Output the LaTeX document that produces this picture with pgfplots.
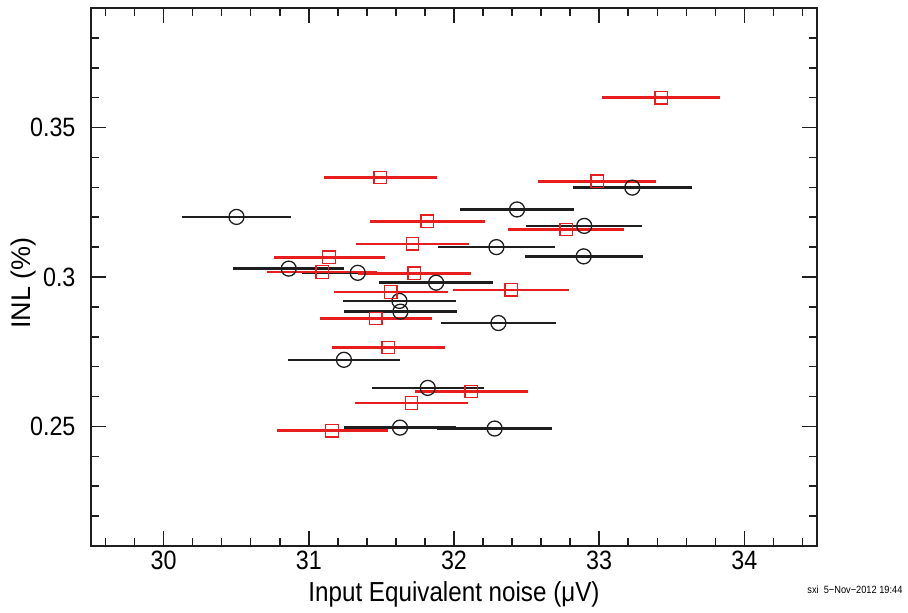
\documentclass[border=0pt]{standalone}
\usepackage{fontspec}
\setmainfont{Liberation Sans}[FakeStretch=0.88]
\newfontfamily\ylabfont{Liberation Sans}
\usepackage{pgfplots}
\pgfplotsset{compat=1.18}
\usepackage{pgfplotstable}
\definecolor{myred}{RGB}{232,30,30}
\definecolor{myblack}{RGB}{30,30,30}

\pgfplotstableread{
x y ex
33.427 0.3600 0.406
31.493 0.3333 0.390
32.987 0.3320 0.406
31.817 0.3186 0.396
32.774 0.3159 0.400
31.714 0.3111 0.392
31.140 0.3066 0.382
31.092 0.3017 0.379
31.727 0.3012 0.389
31.565 0.2950 0.392
32.395 0.2957 0.400
31.461 0.2861 0.385
31.547 0.2764 0.390
32.120 0.2617 0.392
31.707 0.2578 0.392
31.160 0.2486 0.382
}\redtab

\pgfplotstableread{
x y ex
30.502 0.3201 0.376
33.228 0.3299 0.408
32.434 0.3226 0.394
32.897 0.3171 0.401
32.292 0.3100 0.404
32.893 0.3069 0.406
30.862 0.3028 0.381
31.337 0.3014 0.382
31.877 0.2981 0.392
31.624 0.2920 0.390
31.631 0.2884 0.390
32.306 0.2846 0.397
31.242 0.2723 0.387
31.819 0.2629 0.385
31.628 0.2496 0.387
32.280 0.2493 0.394
}\blacktab

\begin{document}
\begin{tikzpicture}[x=1pt,y=1pt]
\begin{axis}[
  at={(91pt,67pt)}, anchor=south west,
  scale only axis, width=726pt, height=538pt,
  xmin=29.5, xmax=34.5, ymin=0.21, ymax=0.39,
  xtick={30,31,32,33,34},
  ytick={0.25,0.3,0.35},
  minor xtick={29.6,29.8,30.2,30.4,30.6,30.8,31.2,31.4,31.6,31.8,32.2,32.4,32.6,32.8,33.2,33.4,33.6,33.8,34.2,34.4},
  minor ytick={0.22,0.23,0.24,0.26,0.27,0.28,0.29,0.31,0.32,0.33,0.34,0.36,0.37,0.38},
  tick align=inside,
  major tick length=15pt, minor tick length=8pt,
  tick style={line width=1.5pt, color=myblack},
  axis line style={line width=2pt, myblack},
  tick label style={font=\fontsize{26.5}{30}\selectfont, color=black},
  /pgf/number format/assume math mode=true,
  yticklabel style={/pgf/number format/fixed, /pgf/number format/precision=2, xshift=-12pt},
  xticklabel style={yshift=-4pt, inner ysep=1pt},
]
\addplot[only marks, mark=o, mark size=7.5pt, color=myblack,
  mark options={line width=1.3pt, fill=none, draw=myblack},
  error bars/.cd, x dir=both, x explicit, error mark=none,
  error bar style={line width=2.5pt, myblack}]
  table[x=x, y=y, x error=ex] {\blacktab};
\addplot[only marks, mark=square, mark size=6.3pt, color=myred,
  mark options={line width=1.3pt, fill=none, draw=myred},
  error bars/.cd, x dir=both, x explicit, error mark=none,
  error bar style={line width=2.5pt, myred}]
  table[x=x, y=y, x error=ex] {\redtab};
\end{axis}
\node[font=\fontsize{27.5}{32}\selectfont, anchor=center, inner ysep=1pt] at (454, 19) {Input Equivalent noise (μV)};
\node[font=\ylabfont\fontsize{27}{30}\selectfont, rotate=90, anchor=center] at (24, 330) {INL (\%)};
\node[font=\fontsize{10.5}{12}\selectfont, anchor=east] at (906, 23) {sxi\ \ 5−Nov−2012 19:44};
\pgfresetboundingbox
\useasboundingbox (0,0) rectangle (908,613);
\end{tikzpicture}
\end{document}
